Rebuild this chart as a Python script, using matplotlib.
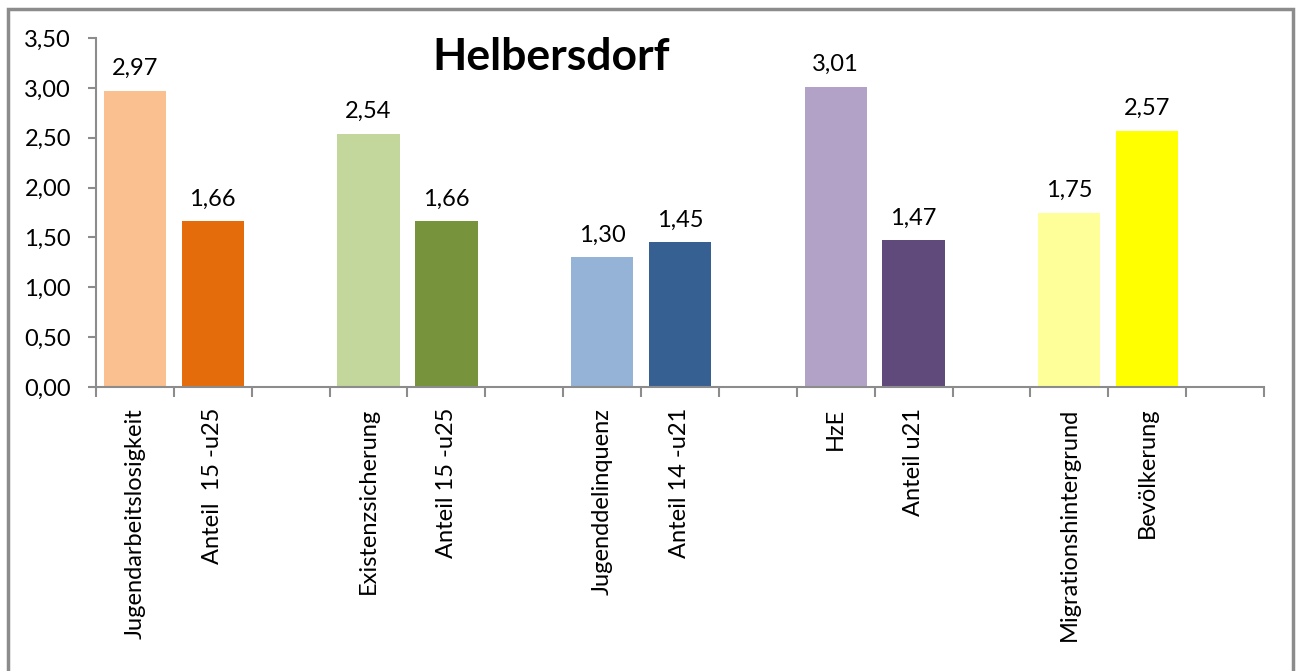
import numpy as np
import matplotlib.pyplot as plt
from matplotlib.patches import Rectangle
from matplotlib.ticker import FuncFormatter, MultipleLocator

TITLE = "Helbersdorf"

# 15 slots, blanks between groups
categories = [
    "Jugendarbeitslosigkeit", "Anteil  15 -u25", "",
    "Existenzsicherung", "Anteil 15 -u25", "",
    "Jugenddelinquenz", "Anteil 14 -u21", "",
    "HzE", "Anteil u21", "",
    "Migrationshintergrund", "Bevölkerung", "",
]
values = [2.97, 1.66, None, 2.54, 1.66, None, 1.30, 1.45, None,
          3.01, 1.47, None, 1.75, 2.57, None]
colors = ["#FAC090", "#E46C0A", None, "#C3D69B", "#77933C", None,
          "#95B3D7", "#376092", None, "#B3A2C7", "#604A7B", None,
          "#FFFF99", "#FFFF00", None]

plt.rcParams["font.family"] = ["Lato", "DejaVu Sans"]

W, H = 1298, 671
fig = plt.figure(figsize=(W / 100, H / 100), dpi=100)
ax = fig.add_axes([96 / W, 1 - 387 / H, (1264 - 96) / W, (387 - 38) / H])

fig.patches.append(Rectangle((8 / W, -0.05), (1293 - 8) / W, 1.05 - 9 / H,
                             transform=fig.transFigure, fill=False,
                             edgecolor="#8c8c8c", linewidth=2.5))

x = np.arange(len(categories))
for xi, v, c in zip(x, values, colors):
    if v is None:
        continue
    ax.bar(xi, v, width=0.8, color=c)
    ax.text(xi, v + 0.12, f"{v:.2f}".replace(".", ","), ha="center",
            va="bottom", fontsize=17)

ax.set_xlim(-0.5, len(categories) - 0.5)
ax.set_ylim(0, 3.5)
ax.yaxis.set_major_locator(MultipleLocator(0.5))
ax.yaxis.set_major_formatter(FuncFormatter(lambda v, _: f"{v:.2f}".replace(".", ",")))
ax.tick_params(axis="y", labelsize=17, length=6, color="#8c8c8c", width=1.5, pad=12)

ax.set_xticks(np.arange(len(categories) + 1) - 0.5)
ax.set_xticklabels([])
ax.set_xticks(x, minor=True)
ax.set_xticklabels(categories, minor=True, rotation=90, fontsize=17, va="top")
ax.tick_params(axis="x", which="minor", length=0, pad=15)
ax.tick_params(axis="x", which="major", length=7, color="#8c8c8c", width=1.5)

for side in ["top", "right"]:
    ax.spines[side].set_visible(False)
for side in ["left", "bottom"]:
    ax.spines[side].set_color("#8c8c8c")
    ax.spines[side].set_linewidth(1.5)

ax.text(0.39, 0.945, TITLE, transform=ax.transAxes, ha="center", va="center",
        fontsize=32, fontweight="bold")

fig.savefig("out.png", dpi=100)
